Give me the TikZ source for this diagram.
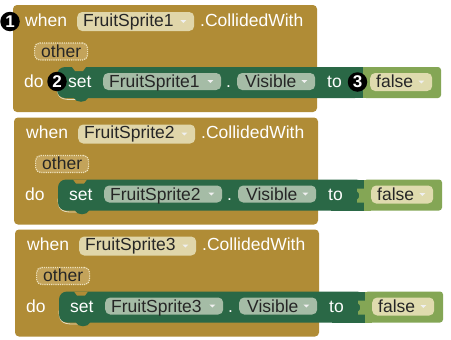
\documentclass[tikz,border=0pt]{standalone}
\usepackage{fontspec}
\setmainfont{Liberation Sans}
\usetikzlibrary{calc}

\definecolor{evbrown}{HTML}{B08C36}
\definecolor{setgreen}{HTML}{2A6846}
\definecolor{logicgreen}{HTML}{84A655}
\definecolor{pillbeige}{HTML}{E0D6AA}
\definecolor{pillgreen}{HTML}{A5BCA6}
\definecolor{otherfill}{HTML}{C3A35A}
\definecolor{otheredge}{HTML}{EEE2BC}
\definecolor{falsepill}{HTML}{DFDBAE}
\definecolor{slotline}{HTML}{E6DDBF}

\tikzset{
  lbl/.style={anchor=base west, inner sep=0pt, font=\fontsize{17.5}{20}\selectfont},
  wlbl/.style={lbl, text=white},
  dlbl/.style={lbl, text=black!85},
  pill/.style={rounded corners=5pt, inner sep=0pt, anchor=west},
  ddarrow/.style={fill=white!88!gray},
  marker/.style={circle, fill=black, text=white, inner sep=0pt, minimum size=19.5pt,
                 font=\fontsize{17}{18}\selectfont\bfseries},
}

% drop-down triangle at the right end of a field
\newcommand{\ddtri}[1]{\fill[ddarrow] ($(#1.east)+(-14,-1.5)$) -- ++(6,0) -- ++(-3,3) -- cycle;}

\begin{document}
\begin{tikzpicture}[x=1pt,y=-1pt]
\useasboundingbox (0,0) rectangle (451,340);
\fill[white] (0,0) rectangle (451,340);

\foreach \n/\dx/\dy in {1/0/0,2/1/112.5,3/2/224.5}{
 \begin{scope}[shift={(\dx,\dy)}]
  % event block body
  \fill[evbrown, rounded corners=4pt] (13,5) rectangle (317,112);
  \draw[slotline, line width=0.8pt] (57,86) .. controls (57,96) and (60,99.5) .. (70,99.5) -- (80,99.5);

  % setter block
  \fill[setgreen, rounded corners=8pt] (57,67) rectangle (363,98);
  \fill[setgreen] (330,67) rectangle (363,98);
  \fill[evbrown] (72,67) -- (86,67) -- (83,71) -- (75,71) -- cycle;
  \fill[setgreen] (74,97) -- (74,98) .. controls (76,103) and (86,103) .. (88,98) -- (88,97) -- cycle;

  % boolean value block
  \fill[logicgreen, rounded corners=3pt] (363,67) rectangle (441,98);
  \fill[logicgreen] (363,67) rectangle (370,98);
  \fill[logicgreen] (363,76) -- (356,76) -- (356,79) .. controls (359,80) and (359,86) .. (356,87) -- (356,90) -- (363,90) -- cycle;

  % header row
  \node[wlbl] (when\n) at (25,26.5) {when};
  \node[pill, fill=pillbeige, minimum width=117pt, minimum height=19pt] (obj\n) at (77,21.5) {};
  \node[dlbl] (objt\n) at (83,26.5) {FruitSprite\n};
  \ddtri{obj\n}
  \node[wlbl] (ev\n) at (200,26.5) {.CollidedWith};

  % event parameter
  \node[pill, fill=otherfill, draw=otheredge, densely dotted, line width=1.2pt,
        minimum width=53pt, minimum height=17pt] (arg\n) at (34,51.5) {};
  \node[dlbl] (argt\n) at (41,57) {other};

  % do row
  \node[wlbl] (do\n) at (24,87.5) {do};
  \node[wlbl] (set\n) at (68,87.5) {set};
  \node[pill, fill=pillgreen, minimum width=118pt, minimum height=17pt] (comp\n) at (103,81.5) {};
  \node[dlbl] (compt\n) at (109,87.5) {FruitSprite\n};
  \ddtri{comp\n}
  \node[wlbl] (dot\n) at (226,87.5) {.};
  \node[pill, fill=pillgreen, minimum width=78pt, minimum height=17pt] (prop\n) at (237,81.5) {};
  \node[dlbl] (propt\n) at (245,87.5) {Visible};
  \ddtri{prop\n}
  \node[wlbl] (to\n) at (327,87.5) {to};
  \node[pill, fill=falsepill, minimum width=62pt, minimum height=18pt] (val\n) at (370,82) {};
  \node[dlbl] (valt\n) at (376,87.5) {false};
  \ddtri{val\n}
 \end{scope}
}

% numbered callouts
\node[marker] (m1) at (10,21.5) {1};
\node[marker] (m2) at (57,81.5) {2};
\node[marker] (m3) at (357.5,82) {3};
\end{tikzpicture}
\end{document}
